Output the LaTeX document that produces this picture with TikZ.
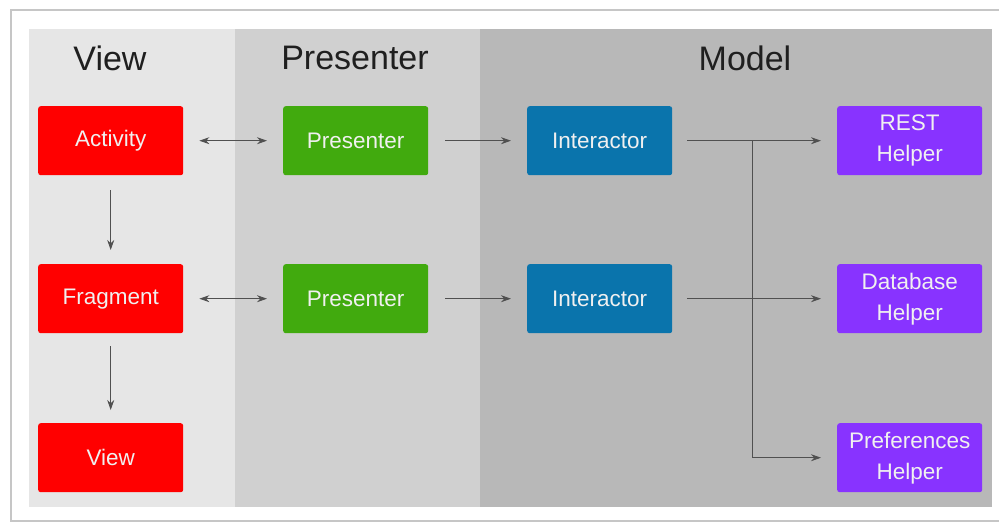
\documentclass[tikz,border=0pt]{standalone}
\usepackage{fontspec}
\setmainfont{Liberation Sans}
\usetikzlibrary{arrows.meta}
\definecolor{viewbg}{HTML}{E6E6E6}
\definecolor{presbg}{HTML}{D0D0D0}
\definecolor{modelbg}{HTML}{B8B8B8}
\definecolor{cred}{HTML}{FF0000}
\definecolor{cgreen}{HTML}{41AA0E}
\definecolor{cblue}{HTML}{0A74AC}
\definecolor{cpurple}{HTML}{8833FF}
\definecolor{lin}{HTML}{505050}
\tikzset{
  box/.style={rounded corners=2.5pt, minimum width=145pt, minimum height=69pt, inner sep=0pt,
    text=white!94!black, font=\fontsize{22.5}{31}\selectfont, align=center, anchor=north west},
  title/.style={font=\fontsize{34}{40}\selectfont, text=black!88},
  tip/.style={Stealth[length=10pt,width=7pt]},
  conn/.style={draw=lin, line width=0.9pt, -{Stealth[length=10pt,width=7pt]}},
  bconn/.style={draw=lin, line width=0.9pt, {Stealth[length=10pt,width=7pt]}-{Stealth[length=10pt,width=7pt]}},
  plain/.style={draw=lin, line width=0.9pt}
}
\begin{document}
\begin{tikzpicture}[x=1pt,y=-1pt]
\useasboundingbox (0,0) rectangle (999,523);
\fill[white] (0,0) rectangle (999,523);
\draw[gray!45, line width=1.5pt] (999,10) -- (11,10) -- (11,521) -- (999,521);
% panels
\fill[viewbg] (29,29) rectangle (235,507);
\fill[presbg] (235,29) rectangle (480,507);
\fill[modelbg] (480,29) rectangle (992,507);
% titles
\node[title] (tview) at (110,58) {View};
\node[title] (tpres) at (355,58) {Presenter};
\node[title] (tmodel) at (745,58) {Model};
% boxes
\node[box, fill=cred] (act) at (38,106) {Activity};
\node[box, fill=cred] (frag) at (38,264) {Fragment};
\node[box, fill=cred] (view) at (38,423) {View};
\node[box, fill=cgreen] (p1) at (283,106) {Presenter};
\node[box, fill=cgreen] (p2) at (283,264) {Presenter};
\node[box, fill=cblue] (i1) at (527,106) {Interactor};
\node[box, fill=cblue] (i2) at (527,264) {Interactor};
\node[box, fill=cpurple] (rest) at (837,106) {REST\\Helper};
\node[box, fill=cpurple] (db) at (837,264) {Database\\Helper};
\node[box, fill=cpurple] (pref) at (837,423) {Preferences\\Helper};
% connectors
\draw[bconn] ([xshift=16pt]act.east) -- ([xshift=-16pt]p1.west);
\draw[bconn] ([xshift=16pt]frag.east) -- ([xshift=-16pt]p2.west);
\draw[conn] ([xshift=17pt]p1.east) -- ([xshift=-16pt]i1.west);
\draw[conn] ([xshift=17pt]p2.east) -- ([xshift=-16pt]i2.west);
\draw[conn] ([yshift=-15pt]act.south) -- ([yshift=14pt]frag.north);
\draw[conn] ([yshift=-13pt]frag.south) -- ([yshift=13pt]view.north);
\draw[conn] ([xshift=15pt]i1.east) -- ([xshift=-16pt]rest.west);
\draw[conn] ([xshift=15pt]i2.east) -- ([xshift=-16pt]db.west);
\coordinate (jn) at (752,141);
\draw[conn] (jn) |- ([xshift=-16pt]pref.west);
\end{tikzpicture}
\end{document}
